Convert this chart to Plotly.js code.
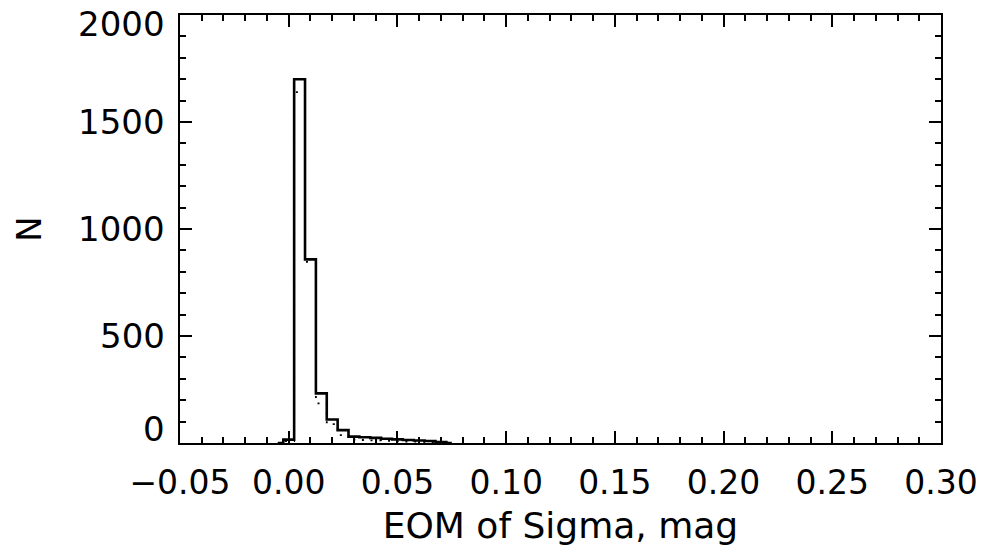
<!DOCTYPE html>
<html>
<head>
<meta charset="utf-8">
<script src="https://cdn.plot.ly/plotly-3.0.1.min.js"></script>
<style>html,body{margin:0;padding:0;background:#fff;}#chart{width:986px;height:559px;}</style>
</head>
<body>
<div id="chart"></div>
<script>
// Bin centres (mag), bin width 0.005
const binCenters = [-0.005, 0.000, 0.005, 0.010, 0.015, 0.020, 0.025, 0.030, 0.035, 0.040, 0.045, 0.050, 0.055, 0.060, 0.065, 0.070, 0.075];
// Solid histogram counts
const countsSolid = [0, 16, 1700, 858, 232, 110, 60, 30, 27, 24, 20, 17, 14, 12, 9, 5, 0];
// Dotted histogram counts
const countsDotted = [0, 9, 1640, 846, 185, 88, 37, 16, 14, 12, 10, 8, 7, 6, 4, 2, 0];

const xTickVals = [-0.05, 0.00, 0.05, 0.10, 0.15, 0.20, 0.25, 0.30];
const yTickVals = [0, 500, 1000, 1500, 2000];
const yTickText = ['0', '500', '1000', '1500', '2000'];

const FONT = 'DejaVu Sans, sans-serif';

const traces = [
  {
    x: binCenters, y: countsDotted, type: 'scatter', mode: 'lines',
    line: {shape: 'hvh', color: '#000', width: 1.8, dash: '2px,7px'},
    hoverinfo: 'skip', showlegend: false
  },
  {
    x: binCenters, y: countsSolid, type: 'scatter', mode: 'lines',
    line: {shape: 'hvh', color: '#000', width: 2.6},
    hoverinfo: 'skip', showlegend: false
  }
];

// y tick labels as annotations: end labels are kept inside the axis extent (IDL style)
const yMin = yTickVals[0], yMax = yTickVals[yTickVals.length - 1];
const annotations = yTickVals.map((v, i) => ({
  xref: 'paper', yref: 'y', x: 0, y: v,
  xanchor: 'right',
  yanchor: v === yMin ? 'bottom' : (v === yMax ? 'top' : 'middle'),
  xshift: -13,
  yshift: v === yMin ? -8 : (v === yMax ? 13 : 0),
  text: yTickText[i], showarrow: false,
  font: {family: FONT, size: 34, color: '#000'}
}));

const layout = {
  width: 986, height: 559,
  margin: {l: 180, r: 45, t: 15, b: 116},
  paper_bgcolor: '#fff', plot_bgcolor: '#fff',
  showlegend: false,
  font: {family: FONT, color: '#000', size: 33},
  annotations: annotations,
  xaxis: {
    range: [-0.05, 0.30], tickvals: xTickVals, tickformat: '.2f',
    ticks: 'inside', ticklen: 12, tickwidth: 2, tickcolor: '#000',
    minor: {ticks: 'inside', ticklen: 6, tickwidth: 2, tickcolor: '#000', dtick: 0.01, tick0: 0, showgrid: false},
    showline: true, linecolor: '#000', linewidth: 2, mirror: 'ticks',
    showgrid: false, zeroline: false,
    tickfont: {family: FONT, size: 33, color: '#000'},
    ticklabelstandoff: 9,
    ticklabeloverflow: 'allow',
    title: {text: 'EOM of Sigma, mag', font: {family: FONT, size: 36, color: '#000'}, standoff: 12}
  },
  yaxis: {
    range: [0, 2000], tickvals: yTickVals, showticklabels: false,
    ticks: 'inside', ticklen: 12, tickwidth: 2, tickcolor: '#000',
    minor: {ticks: 'inside', ticklen: 6, tickwidth: 2, tickcolor: '#000', dtick: 100, tick0: 0, showgrid: false},
    showline: true, linecolor: '#000', linewidth: 2, mirror: 'ticks',
    showgrid: false, zeroline: false,
    title: {text: 'N', font: {family: FONT, size: 34, color: '#000'}, standoff: 126}
  }
};

Plotly.newPlot('chart', traces, layout, {displayModeBar: false, staticPlot: true});
</script>
</body>
</html>
